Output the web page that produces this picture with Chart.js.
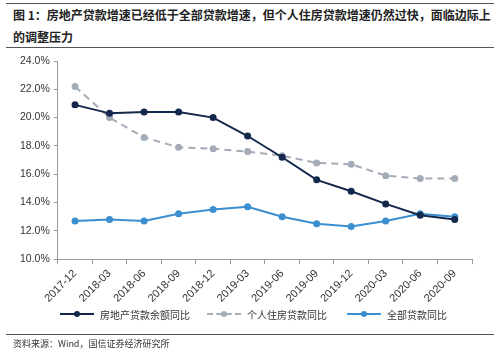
<!DOCTYPE html>
<html>
<head>
<meta charset="utf-8">
<script src="https://cdn.jsdelivr.net/npm/chart.js@4.4.1/dist/chart.umd.min.js"></script>
<style>
  html, body { margin: 0; padding: 0; background: #fff; }
  body { width: 500px; height: 352px; position: relative; overflow: hidden;
         font-family: "Noto Sans CJK SC", "Noto Sans", sans-serif; color: #222; }
  .rule { position: absolute; left: 6px; width: 488px; border-top: 1px solid #555; }
  #title { position: absolute; left: 13px; top: 4px; width: 486px; font-size: 12px;
           font-weight: bold; line-height: 22px; white-space: nowrap; }
  #wrap { position: absolute; left: 0; top: 50px; width: 500px; height: 258px; }
  #legend { position: absolute; top: 306px; left: 0; width: 500px; height: 16px;
            font-size: 10px; color: #333; }
  .item { position: absolute; top: 0; display: flex; align-items: center; height: 16px; }
  .mk { position: relative; width: 34px; height: 16px; margin-right: 6px; }
  .mk .ln { position: absolute; left: 0; right: 0; top: 7px; border-top: 2px solid; }
  .mk .dot { position: absolute; left: 14px; top: 5px; width: 6px; height: 6px; border-radius: 50%; }
  #source { position: absolute; left: 13px; top: 337px; font-size: 9px; color: #333; }
</style>
</head>
<body>
<div class="rule" style="top:3px"></div>
<div id="title">图 1：房地产贷款增速已经低于全部贷款增速，但个人住房贷款增速仍然过快，面临边际上<br>的调整压力</div>
<div class="rule" style="top:47px"></div>
<div id="wrap"><canvas id="chart"></canvas></div>
<div id="legend"></div>
<div class="rule" style="top:334px"></div>
<div id="source">资料来源：Wind，国信证券经济研究所</div>
<script>
const categories = ["2017-12", "2018-03", "2018-06", "2018-09", "2018-12", "2019-03",
                    "2019-06", "2019-09", "2019-12", "2020-03", "2020-06", "2020-09"];
const realEstateLoans = [20.9, 20.3, 20.4, 20.4, 20.0, 18.7, 17.2, 15.6, 14.8, 13.9, 13.1, 12.8];
const mortgageLoans = [22.2, 20.0, 18.6, 17.9, 17.8, 17.6, 17.3, 16.8, 16.7, 15.9, 15.7, 15.7];
const allLoans = [12.7, 12.8, 12.7, 13.2, 13.5, 13.7, 13.0, 12.5, 12.3, 12.7, 13.2, 13.0];
const seriesNames = ["房地产贷款余额同比", "个人住房贷款同比", "全部贷款同比"];
const yTicks = [10, 12, 14, 16, 18, 20, 22, 24];

const colors = ["#13284c", "#a4acb8", "#3b8fd0"];

// build the datasets
function makeSet(label, data, color, dashed) {
  return {
    label: label,
    data: data,
    borderColor: color,
    backgroundColor: color,
    borderWidth: 2,
    borderDash: dashed ? [7, 5] : [],
    pointRadius: 3.5,
    pointHoverRadius: 3.5,
    pointBorderWidth: 0,
    tension: 0,
  };
}

const ctx = document.getElementById("chart").getContext("2d");
new Chart(ctx, {
  type: "line",
  data: {
    labels: categories,
    datasets: [
      makeSet(seriesNames[0], realEstateLoans, colors[0], false),
      makeSet(seriesNames[1], mortgageLoans, colors[1], true),
      makeSet(seriesNames[2], allLoans, colors[2], false),
    ],
  },
  options: {
    responsive: true,
    maintainAspectRatio: false,
    animation: false,
    layout: { padding: { left: 16, right: 28, top: 11, bottom: 0 } },
    plugins: { legend: { display: false }, tooltip: { enabled: false } },
    scales: {
      x: {
        offset: true,
        grid: { offset: true, drawOnChartArea: false, drawTicks: true, tickLength: 5, color: "#999" },
        border: { color: "#999" },
        ticks: { color: "#333", font: { size: 11, family: "Liberation Sans, Arial" },
                 maxRotation: 45, minRotation: 45, autoSkip: false, padding: 3 },
      },
      y: {
        min: 10,
        max: 24,
        afterBuildTicks: (axis) => { axis.ticks = yTicks.map(v => ({ value: v })); },
        grid: { drawOnChartArea: false, drawTicks: true, tickLength: 4, color: "#999" },
        border: { color: "#999" },
        ticks: { color: "#333", font: { size: 10.5, family: "Liberation Sans, Arial" },
                 padding: 4, callback: v => v.toFixed(1) + "%" },
      },
    },
  },
});

// legend drawn in html so the marker is a line with a dot
const legendPos = [60, 207, 347];
const legend = document.getElementById("legend");
seriesNames.forEach((name, i) => {
  const item = document.createElement("div");
  item.className = "item";
  item.style.left = legendPos[i] + "px";
  const style = i === 1 ? "dashed" : "solid";
  item.innerHTML =
    '<div class="mk"><div class="ln" style="border-top:2px ' + style + ' ' + colors[i] + '"></div>' +
    '<div class="dot" style="background:' + colors[i] + '"></div></div><span>' + name + '</span>';
  legend.appendChild(item);
});
</script>
</body>
</html>
